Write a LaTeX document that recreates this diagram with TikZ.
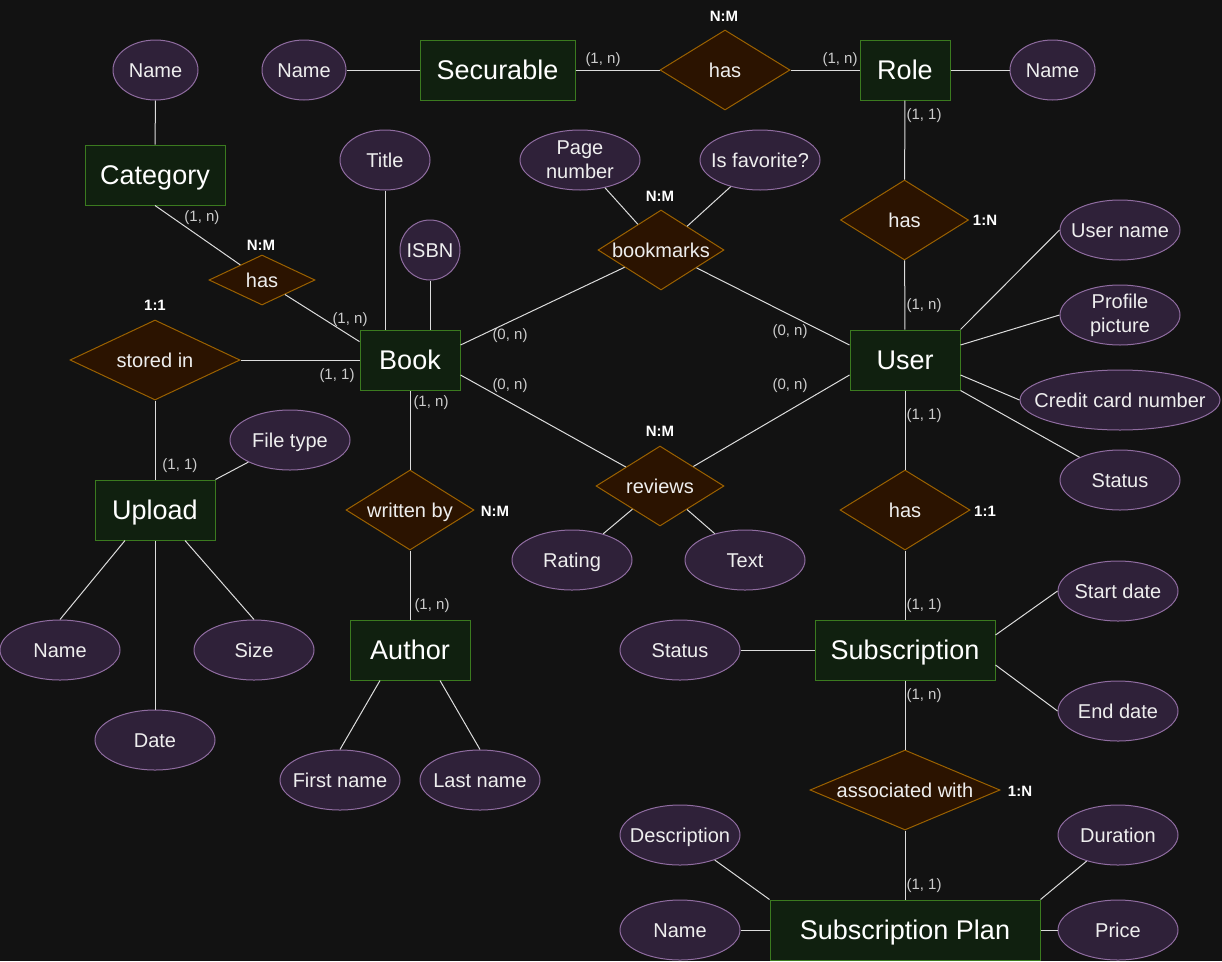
\documentclass[tikz,border=0pt]{standalone}
\usepackage{fontspec}
\setmainfont{Liberation Sans}
\usetikzlibrary{shapes.geometric}

\definecolor{bgcol}{HTML}{121212}
\definecolor{entityfill}{HTML}{10200F}
\definecolor{entityline}{HTML}{3B7A1F}
\definecolor{attrfill}{HTML}{2F2139}
\definecolor{attrline}{HTML}{8F6CA0}
\definecolor{relfill}{HTML}{2B1300}
\definecolor{relline}{HTML}{9A6100}
\definecolor{linecol}{HTML}{DCDCDC}
\definecolor{textcol}{HTML}{EEEEEE}
\definecolor{cardcol}{HTML}{CCCCCC}

\begin{document}
\begin{tikzpicture}[x=1pt,y=-1pt,line width=1pt,
  entity node/.style={rectangle,draw=entityline,fill=entityfill,text=white,inner sep=0pt,minimum height=60pt,text height=24.3pt,text depth=5.4pt,font=\fontsize{27}{30}\selectfont},
  attr node/.style={ellipse,draw=attrline,fill=attrfill,text=textcol,inner xsep=-30pt,inner ysep=-2pt,minimum width=120pt,minimum height=60pt,text height=18pt,text depth=4pt,align=center,font=\fontsize{20}{24}\selectfont},
  two lines/.style={text height=,text depth=},
  rel node/.style={diamond,draw=relline,fill=relfill,text=textcol,inner xsep=-20pt,inner ysep=-4pt,aspect=2,minimum width=128pt,minimum height=80pt,text height=18pt,text depth=4pt,font=\fontsize{20}{22}\selectfont},
  card node/.style={text=cardcol,inner sep=0pt,font=\fontsize{15}{17}\selectfont},
  ratio node/.style={text=white,inner sep=0pt,font=\bfseries\fontsize{15}{17}\selectfont}]
    \fill[bgcol] (0,0) rectangle (1222,961);
    \useasboundingbox (0,0) rectangle (1222,961);
    % \node[style] (identifier) at (x,y) {display};
    \node[entity node, minimum width=155pt] (0) at (497.5,70) {Securable};
    \node[rel node, minimum width=130pt] (1) at (725,70) {has};
    \node[entity node, minimum width=90pt] (2) at (905,70) {Role};
    \node[attr node, minimum width=84pt] (3) at (304,70) {Name};
    \node[attr node, minimum width=85pt] (4) at (1052.5,70) {Name};
    \node[entity node, minimum width=140pt] (5) at (155,175) {Category};
    \node[attr node, minimum width=85pt] (6) at (155.5,70) {Name};
    \node[rel node, minimum width=106pt, minimum height=50pt] (7) at (262,280) {has};
    \node[entity node, minimum width=100pt] (8) at (410,360) {Book};
    \node[attr node, minimum width=90pt] (9) at (385,160) {Title};
    \node[attr node, minimum width=60pt] (10) at (430,250) {ISBN};
    \node[rel node, minimum width=170pt] (11) at (155,360) {stored in};
    \node[entity node, minimum width=120pt] (12) at (155,510) {Upload};
    \node[attr node] (13) at (290,440) {File type};
    \node[attr node] (14) at (60,650) {Name};
    \node[attr node] (15) at (254,650) {Size};
    \node[attr node] (16) at (155,740) {Date};
    \node[rel node] (17) at (410,510) {written by};
    \node[entity node, minimum width=120pt] (18) at (410,650) {Author};
    \node[attr node] (19) at (340,780) {First name};
    \node[attr node] (20) at (480,780) {Last name};
    \node[rel node, minimum width=126pt] (21) at (661,250) {bookmarks};
    \node[attr node, two lines] (22) at (580,160) {Page\\number};
    \node[attr node] (23) at (760,160) {Is favorite?};
    \node[rel node] (24) at (660,486) {reviews};
    \node[attr node] (25) at (572,560) {Rating};
    \node[attr node] (26) at (745,560) {Text};
    \node[rel node] (27) at (904.5,220) {has};
    \node[entity node, minimum width=110pt] (28) at (905,360) {User};
    \node[attr node] (29) at (1120,230) {User name};
    \node[attr node, two lines] (30) at (1120,315) {Profile\\picture};
    \node[attr node, minimum width=200pt] (31) at (1120,400) {Credit card number};
    \node[attr node] (32) at (1120,480) {Status};
    \node[rel node, minimum width=130pt] (33) at (905,510) {has};
    \node[entity node, minimum width=180pt] (34) at (905,650) {Subscription};
    \node[attr node] (35) at (680,650) {Status};
    \node[attr node] (36) at (1118,591) {Start date};
    \node[attr node] (37) at (1118,711) {End date};
    \node[rel node, minimum width=190pt] (38) at (905,790) {associated with};
    \node[entity node, minimum width=270pt] (39) at (905,930) {Subscription Plan};
    \node[attr node] (40) at (680,835) {Description};
    \node[attr node] (41) at (680,930) {Name};
    \node[attr node] (42) at (1118,835) {Duration};
    \node[attr node] (43) at (1118,930) {Price};

    % cardinalities
    \node[card node] (50) at (603,60) {(1, n)};
    \node[card node] (51) at (840,60) {(1, n)};
    \node[card node] (52) at (924,116) {(1, 1)};
    \node[card node] (53) at (924,306) {(1, n)};
    \node[card node] (54) at (202,218) {(1, n)};
    \node[card node] (55) at (350,320) {(1, n)};
    \node[card node] (56) at (337,376) {(1, 1)};
    \node[card node] (57) at (510,336) {(0, n)};
    \node[card node] (58) at (790,332) {(0, n)};
    \node[card node] (59) at (510,386) {(0, n)};
    \node[card node] (60) at (790,386) {(0, n)};
    \node[card node] (61) at (431,403) {(1, n)};
    \node[card node] (62) at (180,466) {(1, 1)};
    \node[card node] (63) at (432,606) {(1, n)};
    \node[card node] (64) at (924,416) {(1, 1)};
    \node[card node] (65) at (924,606) {(1, 1)};
    \node[card node] (66) at (924,696) {(1, n)};
    \node[card node] (67) at (924,886) {(1, 1)};
    \node[ratio node] (70) at (724,16) {N:M};
    \node[ratio node] (71) at (261,245) {N:M};
    \node[ratio node] (72) at (155,305) {1:1};
    \node[ratio node] (73) at (660,196) {N:M};
    \node[ratio node] (74) at (985,220) {1:N};
    \node[ratio node] (75) at (495,511) {N:M};
    \node[ratio node] (76) at (660,431) {N:M};
    \node[ratio node] (77) at (985,511) {1:1};
    \node[ratio node] (78) at (1020,791) {1:N};

    \path[draw=linecol]
    (3) edge (0)
    (0) edge (1)
    (1) edge (2)
    (2) edge (4)
    (6) edge (5)
    (5.south) edge (7)
    (7) edge (8.160)
    (9) edge (9 |- 8.north)
    (10) edge (10 |- 8.north)
    (11) edge (8)
    (11) edge (12)
    (12.north east) edge (13)
    ([xshift=-30pt]12.south) edge (14.north)
    (12) edge (16)
    ([xshift=30pt]12.south) edge (15.north)
    (8) edge (17)
    (17) edge (18)
    ([xshift=-30pt]18.south) edge (19.north)
    ([xshift=30pt]18.south) edge (20.north)
    ([yshift=15pt]8.east) edge (21)
    (21) edge ([yshift=15pt]28.west)
    ([yshift=-15pt]8.east) edge (24)
    (24) edge ([yshift=-15pt]28.west)
    (22) edge (21)
    (23) edge (21)
    (24) edge (25)
    (24) edge (26)
    (2) edge (27)
    (27) edge (28)
    (28.north east) edge (29.west)
    ([yshift=15pt]28.east) edge (30.west)
    ([yshift=-15pt]28.east) edge (31.west)
    (28.south east) edge (32)
    (28) edge (33)
    (33) edge (34)
    (35) edge (34)
    ([yshift=15pt]34.east) edge (36.west)
    ([yshift=-15pt]34.east) edge (37.west)
    (34) edge (38)
    (38) edge (39)
    (40) edge (39.north west)
    (41) edge (39)
    (42) edge (39.north east)
    (43) edge (39);
\end{tikzpicture}
\end{document}
